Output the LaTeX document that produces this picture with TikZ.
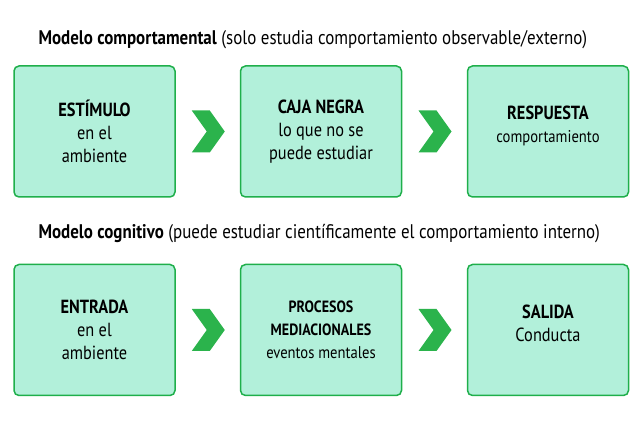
\documentclass[tikz,border=0pt]{standalone}
\usepackage{fontspec}
\setmainfont{PT Sans}[FakeStretch=0.86]
\definecolor{boxfill}{HTML}{B2F0DA}
\definecolor{boxline}{HTML}{1FAF4B}
\definecolor{chev}{HTML}{2BB34C}
\begin{document}
\begin{tikzpicture}[x=1pt,y=-1pt,
  box/.style={draw=boxline,line width=1.5pt,fill=boxfill,rounded corners=5pt,minimum width=161pt,minimum height=131pt,align=center,font=\fontsize{19}{23}\selectfont,text=black},
  ttl/.style={anchor=west,font=\fontsize{19.7}{22}\selectfont}]
\useasboundingbox (0,0) rectangle (640,427);
\node[box] (e) at (94.5,131.5) {\textbf{ESTÍMULO}\\en el\\ambiente};
\node[box] (c) at (321,131.5) {\textbf{CAJA NEGRA}\\lo que no se\\puede estudiar};
\node[box] (r) at (548,131.5) {\textbf{RESPUESTA}\\{\fontsize{17}{23}\selectfont comportamiento}\\[-9pt]};
\node[box] (en) at (94.5,330) {\textbf{ENTRADA}\\en el\\ambiente};
\node[box] (p) at (321,330) {{\fontsize{16.3}{22}\selectfont\textbf{PROCESOS}}\\{\fontsize{16.3}{22}\selectfont\textbf{MEDIACIONALES}}\\{\fontsize{17}{22}\selectfont eventos mentales}};
\node[box] (s) at (548,330) {\textbf{SALIDA}\\Conducta\\[-9pt]};
\node[ttl] (t1) at (35,40) {\textbf{Modelo comportamental} (solo estudia comportamiento observable/externo)};
\node[ttl] (t2) at (35,234) {\textbf{Modelo cognitivo} (puede estudiar científicamente el comportamiento interno)};
\foreach \a/\b in {e/c,c/r,en/p,p/s}{
  \path (\a.east) -- (\b.west) coordinate[pos=0.5] (m\a);
  \fill[chev] ([xshift=-16pt,yshift=-21pt]m\a) -- ([xshift=2pt,yshift=-21pt]m\a) -- ([xshift=17pt]m\a) -- ([xshift=2pt,yshift=21pt]m\a) -- ([xshift=-16pt,yshift=21pt]m\a) -- ([xshift=-1pt]m\a) -- cycle;
}
\end{tikzpicture}
\end{document}
